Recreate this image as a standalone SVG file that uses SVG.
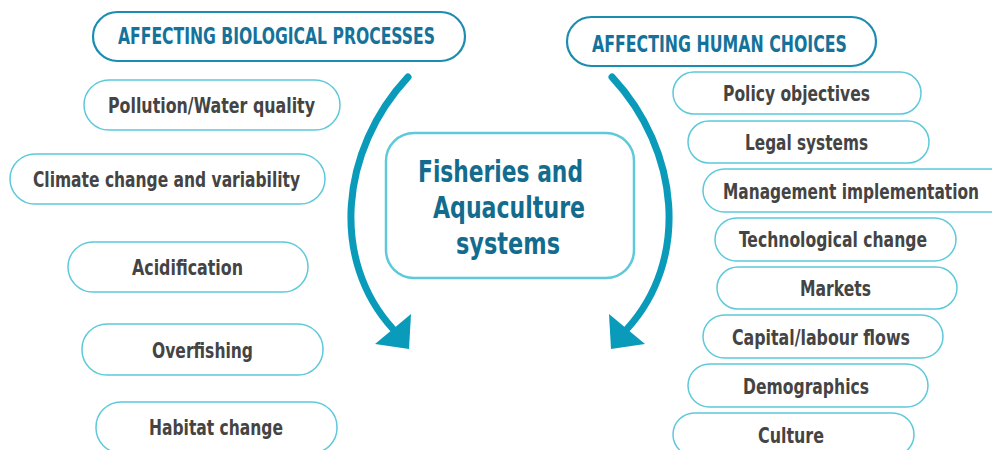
<svg xmlns="http://www.w3.org/2000/svg" width="992" height="450" viewBox="0 0 992 450">
<style>
.hdr{fill:#fff;stroke:#1a8db0;stroke-width:2.2}
.hdt{font-family:"Liberation Sans Narrow","DejaVu Sans Condensed","Liberation Sans",sans-serif;font-weight:bold;font-size:23px;fill:#15729a;text-anchor:middle}
.pill{fill:#fff;stroke:#5ec9da;stroke-width:1.5}
.pt{font-family:"Liberation Sans Narrow","DejaVu Sans Condensed","Liberation Sans",sans-serif;font-weight:bold;font-size:22px;fill:#444;text-anchor:middle}
.ctr{fill:#fff;stroke:#5ec9da;stroke-width:2.5}
.ct{font-family:"Liberation Sans Narrow","DejaVu Sans Condensed","Liberation Sans",sans-serif;font-weight:bold;font-size:31px;fill:#136c8e;text-anchor:middle}
.arc{fill:none;stroke:#0b9bba;stroke-width:7;stroke-linecap:round}
.head{fill:#0b9bba}
</style>
<g id="connectors">
<path class="arc" d="M408,77 C340,150 330,260 393,329"/>
<polygon class="head" points="411,314 375,344 409,349"/>
<path class="arc" d="M612,77 C680,150 690,260 627,329"/>
<polygon class="head" points="609,314 645,344 611,349"/>
</g>
<g id="hdr-bio">
<rect class="hdr" x="93" y="12" width="372" height="49" rx="24.5"/>
<text class="hdt" x="276.5" y="44" textLength="317" lengthAdjust="spacingAndGlyphs">AFFECTING BIOLOGICAL PROCESSES</text>
</g>
<g id="hdr-human">
<rect class="hdr" x="567" y="17" width="309" height="49" rx="24.5"/>
<text class="hdt" x="719.5" y="52" textLength="255" lengthAdjust="spacingAndGlyphs">AFFECTING HUMAN CHOICES</text>
</g>
<g id="center">
<rect class="ctr" x="386" y="133" width="248" height="145" rx="28"/>
<text class="ct" x="500.5" y="182" textLength="165" lengthAdjust="spacingAndGlyphs">Fisheries and</text>
<text class="ct" x="509" y="218" textLength="152" lengthAdjust="spacingAndGlyphs">Aquaculture</text>
<text class="ct" x="508" y="254" textLength="104" lengthAdjust="spacingAndGlyphs">systems</text>
</g>
<g id="pollution">
<rect class="pill" x="84" y="80" width="256" height="50" rx="25"/>
<text class="pt" x="211.5" y="113" textLength="207" lengthAdjust="spacingAndGlyphs">Pollution/Water quality</text>
</g>
<g id="climate">
<rect class="pill" x="10" y="154" width="315" height="50" rx="25"/>
<text class="pt" x="166.5" y="187" textLength="267" lengthAdjust="spacingAndGlyphs">Climate change and variability</text>
</g>
<g id="acidification">
<rect class="pill" x="68" y="242" width="240" height="50" rx="25"/>
<text class="pt" x="187.5" y="275" textLength="111" lengthAdjust="spacingAndGlyphs">Acidification</text>
</g>
<g id="overfishing">
<rect class="pill" x="82" y="324" width="241" height="51" rx="25"/>
<text class="pt" x="202.5" y="358" textLength="101" lengthAdjust="spacingAndGlyphs">Overfishing</text>
</g>
<g id="habitat">
<rect class="pill" x="96" y="402" width="241" height="51" rx="25"/>
<text class="pt" x="216" y="435" textLength="134" lengthAdjust="spacingAndGlyphs">Habitat change</text>
</g>
<g id="policy">
<rect class="pill" x="673" y="72" width="248" height="42" rx="21"/>
<text class="pt" x="796.5" y="101" textLength="147" lengthAdjust="spacingAndGlyphs">Policy objectives</text>
</g>
<g id="legal">
<rect class="pill" x="688" y="121" width="241" height="42" rx="21"/>
<text class="pt" x="806.5" y="150" textLength="123" lengthAdjust="spacingAndGlyphs">Legal systems</text>
</g>
<g id="management">
<rect class="pill" x="703" y="169" width="320" height="43" rx="21.5"/>
<text class="pt" x="851" y="199" textLength="256" lengthAdjust="spacingAndGlyphs">Management implementation</text>
</g>
<g id="technological">
<rect class="pill" x="715" y="218" width="241" height="43" rx="21.5"/>
<text class="pt" x="833" y="247" textLength="188" lengthAdjust="spacingAndGlyphs">Technological change</text>
</g>
<g id="markets">
<rect class="pill" x="717" y="267" width="240" height="42" rx="21"/>
<text class="pt" x="835.5" y="296" textLength="71" lengthAdjust="spacingAndGlyphs">Markets</text>
</g>
<g id="capital">
<rect class="pill" x="703" y="315" width="240" height="43" rx="21.5"/>
<text class="pt" x="821" y="345" textLength="178" lengthAdjust="spacingAndGlyphs">Capital/labour flows</text>
</g>
<g id="demographics">
<rect class="pill" x="688" y="364" width="240" height="43" rx="21.5"/>
<text class="pt" x="806" y="394" textLength="126" lengthAdjust="spacingAndGlyphs">Demographics</text>
</g>
<g id="culture">
<rect class="pill" x="673" y="413" width="241" height="43" rx="21.5"/>
<text class="pt" x="791" y="443" textLength="66" lengthAdjust="spacingAndGlyphs">Culture</text>
</g>
</svg>
